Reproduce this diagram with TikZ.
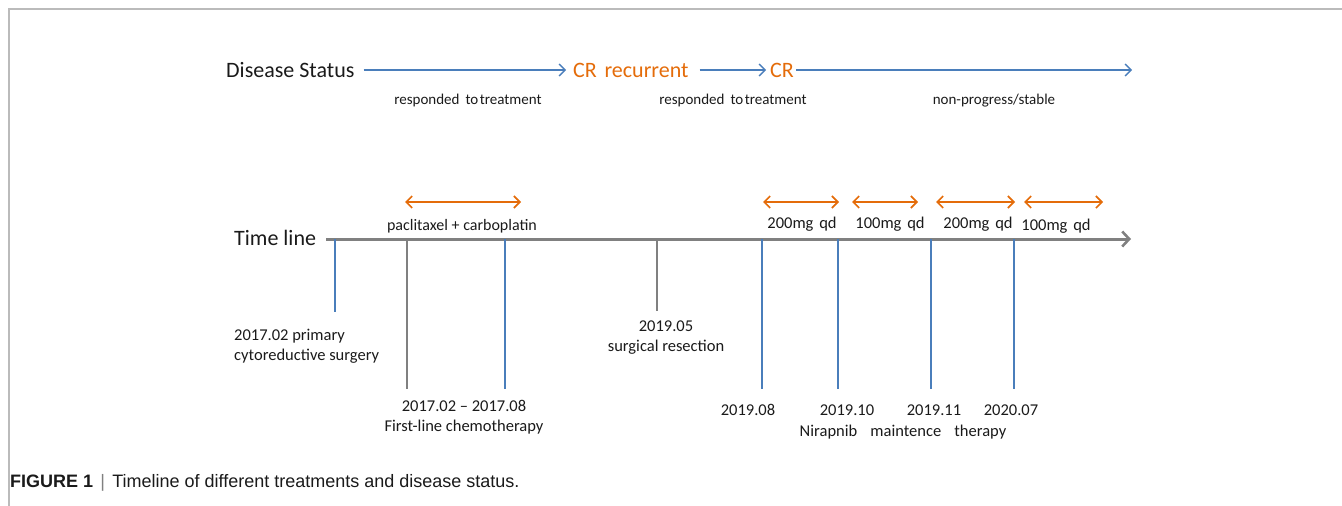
\documentclass[tikz,border=0pt]{standalone}
\usepackage{fontspec}
\setmainfont{Carlito}
\newfontfamily\capfont{Liberation Sans}
\usetikzlibrary{arrows.meta}
\definecolor{sblue}{HTML}{4A7EBB}
\definecolor{sorange}{HTML}{E46C0A}
\definecolor{sgray}{HTML}{808080}
\definecolor{sframe}{HTML}{BBBBBB}
\definecolor{stext}{HTML}{1A1A1A}
\tikzset{
  bigtxt/.style={font=\fontsize{22}{24}\selectfont, text=stext, inner sep=0pt},
  status/.style={font=\fontsize{22}{24}\selectfont, text=sorange, inner sep=0pt},
  small/.style={font=\fontsize{15}{17}\selectfont, text=stext, inner sep=0pt},
  lbl/.style={font=\fontsize{16.5}{20}\selectfont, text=stext, inner sep=0pt, align=center},
  bluearr/.style={draw=sblue, line width=1.4pt, -{Straight Barb[length=6pt,width=12pt,line width=1.4pt]}},
  dosearr/.style={draw=sorange, line width=1.6pt, {Straight Barb[length=6pt,width=12pt,line width=1.6pt]}-{Straight Barb[length=6pt,width=12pt,line width=1.6pt]}},
  axisarr/.style={draw=sgray, line width=3pt, -{Straight Barb[length=7pt,width=15pt,line width=2.6pt]}},
  bluetick/.style={draw=sblue, line width=1.3pt},
  graytick/.style={draw=sgray, line width=1.3pt},
}
\begin{document}
\begin{tikzpicture}[x=1pt,y=-1pt]
\useasboundingbox (0,0) rectangle (1342,506);
% frame
\draw[sframe, line width=1.6pt] (9,506) -- (9,9) -- (1342,9);

% Disease status row
\node[bigtxt, anchor=west] (ds) at (226,70) {Disease Status};
\node[status, anchor=west] (cr1) at (573,70) {CR\hspace{0.35em}recurrent};
\node[status, anchor=west] (cr2) at (770,70) {CR};
\coordinate (dsend) at (1132,70);
\draw[bluearr] ([xshift=9pt]ds.east) -- ([xshift=-7pt]cr1.west);
\draw[bluearr] ([xshift=11pt]cr1.east) -- ([xshift=-4pt]cr2.west);
\draw[bluearr] ([xshift=2pt]cr2.east) -- (dsend);

\node[small] (r1) at (468,101) {responded\hspace{0.4em}to\hspace{0.1em}treatment};
\node[small] (r2) at (733,101) {responded\hspace{0.4em}to\hspace{0.1em}treatment};
\node[small] (r3) at (994,101) {non-progress/stable};

% Time line
\node[bigtxt, anchor=west] (tl) at (234,238) {Time line};
\coordinate (tlend) at (1131,239);
\draw[axisarr] ([xshift=10pt,yshift=-1pt]tl.east) -- (tlend);

% ticks
\coordinate (t1) at (335,239); \coordinate (b1) at (335,312);
\coordinate (t2) at (407,239); \coordinate (b2) at (407,389);
\coordinate (t3) at (505,239); \coordinate (b3) at (505,389);
\coordinate (t4) at (657,239); \coordinate (b4) at (657,311);
\coordinate (t5) at (762,239); \coordinate (b5) at (762,389);
\coordinate (t6) at (838,239); \coordinate (b6) at (838,389);
\coordinate (t7) at (931,239); \coordinate (b7) at (931,389);
\coordinate (t8) at (1014,239); \coordinate (b8) at (1014,389);
\draw[bluetick] (t1) -- (b1);
\draw[graytick] (t2) -- (b2);
\draw[bluetick] (t3) -- (b3);
\draw[graytick] (t4) -- (b4);
\draw[bluetick] (t5) -- (b5);
\draw[bluetick] (t6) -- (b6);
\draw[bluetick] (t7) -- (b7);
\draw[bluetick] (t8) -- (b8);

% dose arrows
\coordinate (a1l) at (405,202); \coordinate (a1r) at (521,202);
\coordinate (a2l) at (763,202); \coordinate (a2r) at (839,202);
\coordinate (a3l) at (852,202); \coordinate (a3r) at (918,202);
\coordinate (a4l) at (936,202); \coordinate (a4r) at (1015,202);
\coordinate (a5l) at (1024,202); \coordinate (a5r) at (1103,202);
\draw[dosearr] (a1l) -- (a1r);
\draw[dosearr] (a2l) -- (a2r);
\draw[dosearr] (a3l) -- (a3r);
\draw[dosearr] (a4l) -- (a4r);
\draw[dosearr] (a5l) -- (a5r);

\node[lbl, font=\fontsize{16}{20}\selectfont] (pc) at (462,226) {paclitaxel + carboplatin};
\node[lbl] (d1) at (802,224) {200mg\hspace{0.35em}qd};
\node[lbl] (d2) at (890,224) {100mg\hspace{0.35em}qd};
\node[lbl] (d3) at (978,224) {200mg\hspace{0.35em}qd};
\node[lbl] (d4) at (1056,226) {100mg\hspace{0.35em}qd};

% bottom labels
\node[lbl, align=left, anchor=west] (l1) at (234,346) {2017.02 primary\\cytoreductive surgery};
\node[lbl] (l2) at (464,417) {2017.02 -- 2017.08\\First-line chemotherapy};
\node[lbl] (l3) at (666,338) {2019.05\\surgical resection};
\node[lbl] (l4) at (748,410) {2019.08};
\node[lbl] (l5) at (847,410) {2019.10};
\node[lbl] (l6) at (934,410) {2019.11};
\node[lbl] (l7) at (1011,410) {2020.07};
\node[lbl] (l8) at (903,432) {Nirapnib\hspace{0.8em}maintence\hspace{0.8em}therapy};

% caption
\node[anchor=west, inner sep=0pt, font=\capfont\fontsize{18}{20}\selectfont, text=stext] (cap) at (10,483)
  {\textbf{FIGURE 1}\hspace{0.4em}{\color{sgray}|}\hspace{0.4em}Timeline of different treatments and disease status.};
\end{tikzpicture}
\end{document}
